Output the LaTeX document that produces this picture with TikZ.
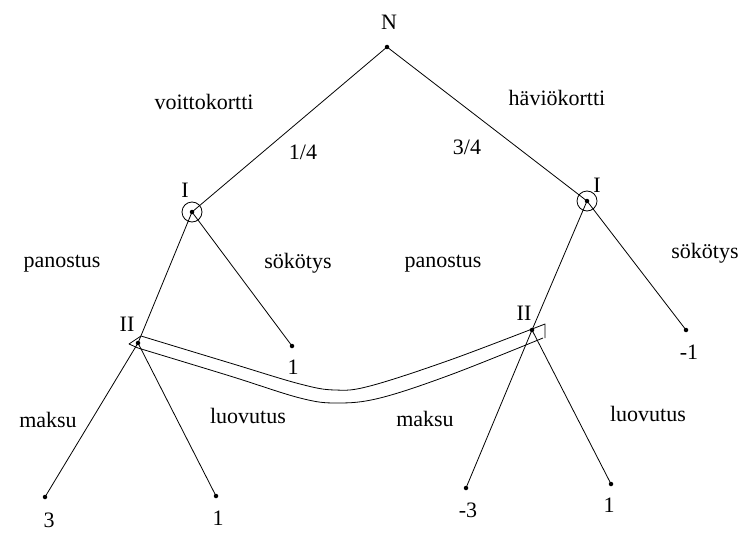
\documentclass[tikz,border=0pt]{standalone}
\usepackage{fontspec}
\setmainfont{Liberation Serif}
\begin{document}
\begin{tikzpicture}[x=1pt,y=-1pt,
  dot/.style={circle,fill=black,inner sep=0pt,minimum size=4.5pt},
  lbl/.style={font=\fontsize{22}{24}\selectfont,inner sep=0pt,anchor=center},
  edge/.style={line width=0.8pt}]
\useasboundingbox (0,0) rectangle (743,532);
% decision nodes
\node[dot] (N) at (387,47) {};
\node[dot] (IL) at (192,212) {};
\node[dot] (IR) at (587,201) {};
\node[dot] (IIL) at (138,343) {};
\node[dot] (IIR) at (532,330) {};
\node[dot] (L1) at (292,346) {};
\node[dot] (R1) at (686,330) {};
\node[dot] (A) at (45,497) {};
\node[dot] (B) at (216,496) {};
\node[dot] (C) at (466,488) {};
\node[dot] (D) at (611,484) {};
% edges
\draw[edge] (N.center) -- (IL.center);
\draw[edge] (N.center) -- (IR.center);
\draw[edge] (IL.center) -- (IIL.center);
\draw[edge] (IL.center) -- (L1.center);
\draw[edge] (IR.center) -- (IIR.center);
\draw[edge] (IR.center) -- (R1.center);
\draw[edge] (IIL.center) -- (A.center);
\draw[edge] (IIL.center) -- (B.center);
\draw[edge] (IIR.center) -- (C.center);
\draw[edge] (IIR.center) -- (D.center);
% circles around I
\draw[edge] (IL.center) circle (10);
\draw[edge] (IR.center) circle (10);
% information set band
\draw[edge,line join=round] plot[smooth,tension=0.6] coordinates {(141,336) (230,363) (300,384) (335,390) (370,386) (450,360) (545,324)}
  -- (545,338)
  plot[smooth,tension=0.6] coordinates {(543,338) (450,375) (380,398) (337,403) (300,398) (230,376) (138,348)}
  -- (129,344) -- (141,336);
% node labels
\node[lbl] (tN) at (389,22) {N};
\node[lbl] (tIL) at (185,190) {I};
\node[lbl] (tIR) at (597,185) {I};
\node[lbl] (tIIL) at (127,324) {II};
\node[lbl] (tIIR) at (524,313) {II};
% payoffs
\node[lbl] (p1) at (293,367) {1};
\node[lbl] (p2) at (689,352) {-1};
\node[lbl] (p3) at (49,520) {3};
\node[lbl] (p4) at (218,518) {1};
\node[lbl] (p5) at (468,510) {-3};
\node[lbl] (p6) at (609,505) {1};
% action labels
\node[lbl] (a1) at (204,102) {voittokortti};
\node[lbl] (a2) at (303,152) {1/4};
\node[lbl] (a3) at (467,147) {3/4};
\node[lbl] (a4) at (557,98) {häviökortti};
\node[lbl] (a5) at (62,264) {panostus};
\node[lbl] (a6) at (298,263) {sökötys};
\node[lbl] (a7) at (443,264) {panostus};
\node[lbl] (a8) at (705,253) {sökötys};
\node[lbl] (a9) at (48,420) {maksu};
\node[lbl] (a10) at (248,416) {luovutus};
\node[lbl] (a11) at (425,419) {maksu};
\node[lbl] (a12) at (648,414) {luovutus};
\end{tikzpicture}
\end{document}
